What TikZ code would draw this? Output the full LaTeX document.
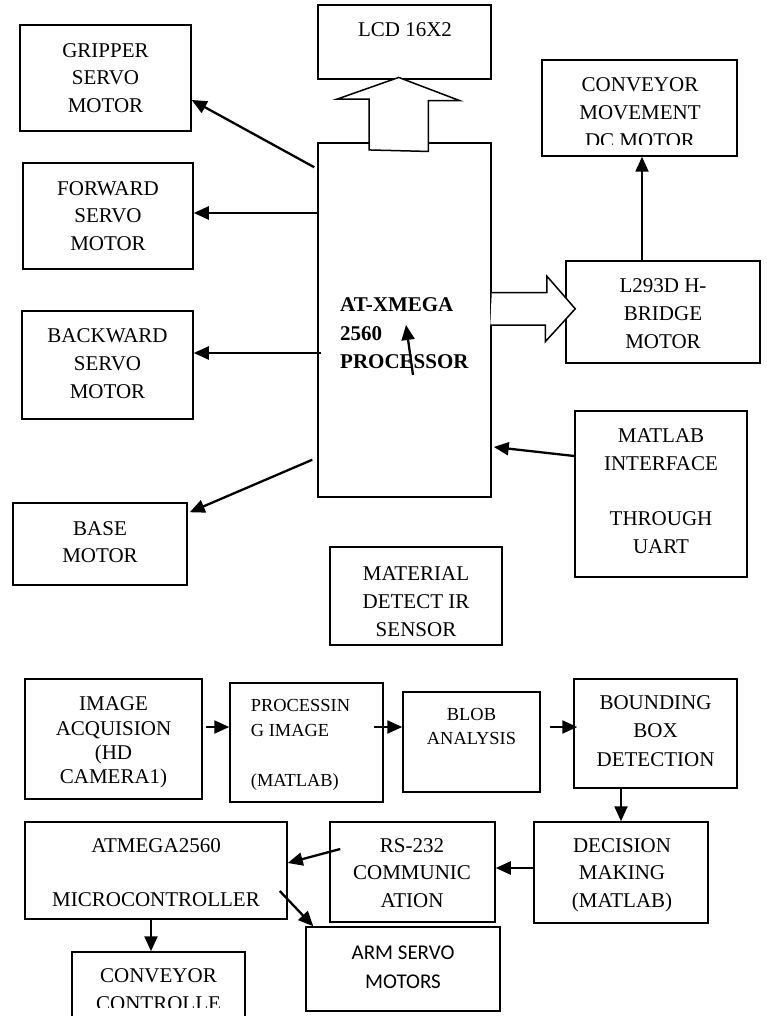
\documentclass[tikz,border=0pt]{standalone}
\usepackage{fontspec}
\setmainfont{Liberation Serif}
\newfontfamily\calib{Carlito}
\usetikzlibrary{arrows.meta,calc}
\newcommand\sx{\rule[-.3\baselineskip]{0pt}{\baselineskip}}
\begin{document}
\begin{tikzpicture}[x=1pt,y=-1pt,
  box/.style={draw, line width=1.5pt, inner sep=0pt, minimum width=#1},
  tx/.style={inner sep=0pt, anchor=north, align=center, font=\fontsize{21}{#1}\selectfont},
  sm/.style={inner sep=0pt, anchor=north, align=center, font=\fontsize{18.4}{#1}\selectfont},
  arr/.style={line width=2.3pt, -{Triangle[length=15pt,width=13pt]}},
  hollow/.style={draw, line width=1.5pt, fill=white, line join=miter}]
\useasboundingbox (0,0) rectangle (767,1016);
% ---------- boxes ----------
\node[box=173, minimum height=74] (lcd) at (404.5,42) {};
\node[box=171, minimum height=106] (grip) at (105.5,78) {};
\node[box=170, minimum height=106] (fwd) at (108,216) {};
\node[box=171, minimum height=108] (back) at (107.5,365) {};
\node[box=174, minimum height=82] (base) at (100,544) {};
\node[box=173, minimum height=354] (proc) at (404.5,320) {};
\node[box=195, minimum height=96] (conv) at (639.5,108) {};
\node[box=194, minimum height=102] (hb) at (663,312) {};
\node[box=172, minimum height=166] (matl) at (661,494) {};
\node[box=172, minimum height=98] (mat) at (416,596) {};
\node[box=177, minimum height=120] (img) at (113.5,739) {};
\node[box=153, minimum height=119] (pimg) at (306.5,742.5) {};
\node[box=137, minimum height=100] (blob) at (471.5,742) {};
\node[box=163, minimum height=109] (bbox) at (655.5,733.5) {};
\node[box=174, minimum height=101] (dec) at (621,872.5) {};
\node[box=165, minimum height=100] (rs) at (412.5,872) {};
\node[box=262, minimum height=97] (atm) at (156,870.5) {};
\node[box=194, minimum height=84] (arm) at (403,969) {};
\node[box=173, minimum height=88] (cc) at (158.5,996) {};
% ---------- texts ----------
\node[tx=28] (lcd-t) at (405,16.4) {\sx LCD 16X2};
\node[tx=27.7] (grip-t) at (105.5,37.6) {\sx GRIPPER\\SERVO\\MOTOR};
\node[tx=27.5] (fwd-t) at (108,175.8) {\sx FORWARD\\SERVO\\MOTOR};
\node[tx=27.8] (back-t) at (107.5,323.2) {\sx BACKWARD\\SERVO\\MOTOR};
\node[tx=27.7] (base-t) at (100,515.6) {\sx BASE\\MOTOR};
\begin{scope}
  \clip (540,58) rectangle (740,144.5);
  \node[tx=27.6] (conv-t) at (640,72.4) {\sx CONVEYOR\\MOVEMENT\\DC MOTOR};
\end{scope}
\node[tx=28] (hb-t) at (663,273.1) {\sx L293D H-\\BRIDGE\\MOTOR};
\node[tx=28.3, anchor=north west, align=left, font=\fontsize{21}{28.3}\selectfont\bfseries] (proc-t) at (340,291.9) {\sx AT-XMEGA\\2560\\PROCESSOR};
\node[tx=27.7] (matl-t) at (661,423.3) {\sx MATLAB\\INTERFACE\\\sx\\THROUGH\\UART};
\node[tx=28] (mat-t) at (416,560.4) {\sx MATERIAL\\DETECT IR\\SENSOR};
\node[tx=24.2] (img-t) at (113.5,693.8) {\sx IMAGE\\ACQUISION\\(HD\\CAMERA1)};
\node[sm=24.8, anchor=north west, align=left] (pimg-t) at (250.7,694.3) {\sx PROCESSIN\\G IMAGE\\\sx\\(MATLAB)};
\node[sm=24.3] (blob-t) at (471.5,703) {\sx BLOB\\ANALYSIS};
\node[tx=28.3] (bbox-t) at (655.5,689.5) {\sx BOUNDING\\BOX\\DETECTION};
\node[tx=27.5] (dec-t) at (622,833) {\sx DECISION\\MAKING\\(MATLAB)};
\node[tx=27.7] (rs-t) at (412,832.6) {\sx RS-232\\COMMUNIC\\ATION};
\node[tx=27.2] (atm-t) at (156,833.3) {\sx ATMEGA2560\\\sx\\MICROCONTROLLER};
\node[tx=29, font=\fontsize{21}{29}\selectfont\calib] (arm-t) at (403,939) {\sx ARM SERVO\\MOTORS};
\begin{scope}
  \clip (60,950) rectangle (260,1007.5);
  \node[tx=28] (cc-t) at (158.5,963.1) {\sx CONVEYOR\\CONTROLLE};
\end{scope}
% ---------- block arrows ----------
\draw[hollow] ($(proc.north)+(-35.5,7.7)$) -- ++(0,-50.7) -- ++(-32.3,0)
  -- ($(lcd.south)+(-5.8,-2.3)$) -- ++(61.3,23.3) -- ++(-31.7,0) -- ++(0,50.7) -- cycle;
\fill[white] ($(proc.east)+(0,-27.3)$) rectangle ++(56,32.3);
\draw[hollow] ($(proc.east)+(0,-27.3)$) -- ++(55,0) -- ++(0,-16.7)
  -- ($(hb.west)+(10,-3.2)$) -- ++(-30,32.9) -- ++(0,-16.7) -- ++(-55,0);
% ---------- connectors ----------
\draw[arr] ($(proc.north west)+(-3,25)$) -- ($(grip.east)+(0,22)$);
\draw[arr] (proc.west |- 0,213) -- (fwd.east |- 0,213);
\draw[arr] ($(proc.west |- 0,353)+(4,0)$) -- (back.east |- 0,353);
\draw[arr] ($(proc.south west)+(-5,-38)$) -- ($(base.north east)+(2,10)$);
\draw[arr] (matl.west |- 0,456) -- ($(proc.east |- 0,447)+(2,0)$);
\draw[arr] (hb.north -| 642,0) -- (conv.south -| 642,0);
\draw[arr] ($(proc.center)+(8.5,55)$) -- ($(proc.center)+(1.5,5)$);
\draw[arr] ($(img.east |- 0,727)+(3,0)$) -- (pimg.west |- 0,727);
\draw[arr] ($(pimg.east |- 0,727)+(-10,0)$) -- (blob.west |- 0,727);
\draw[arr] ($(blob.east |- 0,727)+(9,0)$) -- ($(bbox.west |- 0,727)+(4,0)$);
\draw[arr] (bbox.south -| dec.north) -- (dec.north);
\draw[arr] (dec.west |- 0,868) -- (rs.east |- 0,868);
\draw[arr] ($(rs.west |- 0,849)+(11,0)$) -- (atm.east |- 0,863);
\draw[arr] ($(atm.east |- 0,891)+(-8,0)$) -- ($(arm.north west)+(8,0)$);
\draw[arr] (atm.south -| 151,0) -- (cc.north -| 151,0);
\end{tikzpicture}
\end{document}
